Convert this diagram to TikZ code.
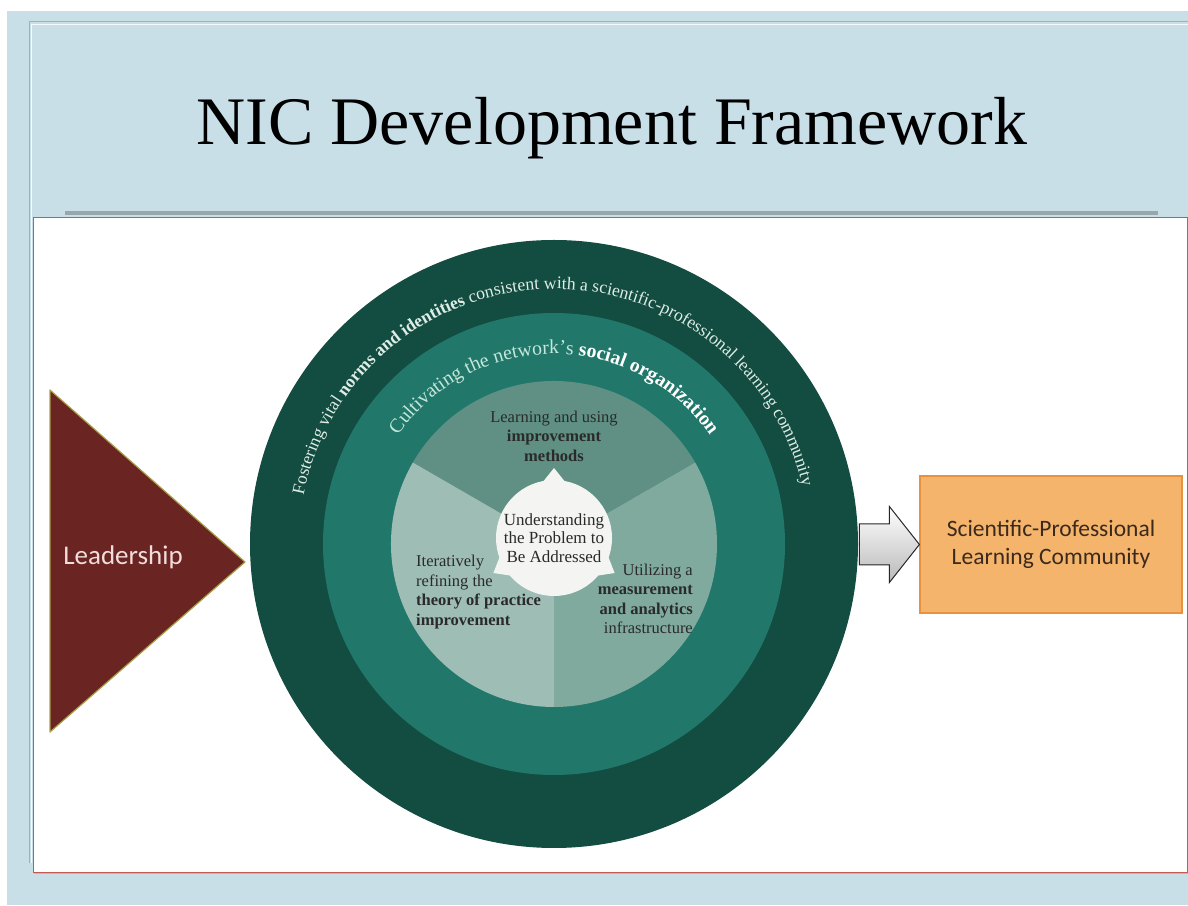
\documentclass[tikz,border=0pt]{standalone}
\usepackage{fontspec}
\setmainfont{Liberation Serif}
\newfontfamily\calibri{Carlito}
\usetikzlibrary{decorations.text,shadows,calc}
\definecolor{bgblue}{HTML}{C8DFE8}
\definecolor{framegray}{HTML}{9DB3BC}
\definecolor{bargray}{HTML}{9AA7AA}
\definecolor{panelred}{HTML}{C65A50}
\definecolor{ringdark}{HTML}{134C40}
\definecolor{ringmid}{HTML}{21786A}
\definecolor{sectop}{HTML}{5F9083}
\definecolor{secleft}{HTML}{9EBDB5}
\definecolor{secright}{HTML}{80AA9E}
\definecolor{corewhite}{HTML}{F4F4F2}
\definecolor{innertext}{HTML}{2A2A2A}
\definecolor{outertext}{HTML}{DDECE6}
\definecolor{midtext}{HTML}{C4E6DB}
\definecolor{leadred}{HTML}{6A2421}
\definecolor{leadedge}{HTML}{A8A048}
\definecolor{leadtext}{HTML}{F2DCDC}
\definecolor{boxfill}{HTML}{F4B46C}
\definecolor{boxedge}{HTML}{E8913E}
\definecolor{boxtext}{HTML}{3B2A1C}
\newcommand\outerreg{\fontsize{17.7}{20}\selectfont\mdseries}
\newcommand\outerbold{\fontsize{17.7}{20}\selectfont\bfseries}
\newcommand\midreg{\fontsize{19.8}{22}\selectfont\mdseries\color{midtext}}
\newcommand\midbold{\fontsize{19.8}{22}\selectfont\bfseries\color{white}}
\tikzset{
  innerlabel/.style={inner sep=0pt, text=innertext, font=\fontsize{16.5}{19.5}\selectfont},
  ringnode/.style={circle, inner sep=0pt},
}
\begin{document}
\begin{tikzpicture}[x=1pt,y=1pt]
\useasboundingbox (0,0) rectangle (1188,905);
\fill[white] (0,0) rectangle (1188,905);
\fill[bgblue] (7,0) rectangle (1188,894);
\draw[framegray, line width=1pt] (29,42) -- (29,883) -- (1188,883);
\draw[white!85!bgblue, line width=0.8pt] (31,42) -- (31,881) -- (1188,881);
\node[font=\fontsize{68}{80}\selectfont, anchor=base] (title) at (612,760) {NIC Development Framework};
\fill[bargray] (65,690) rectangle (1158,694);
\draw[fill=white, draw=panelred, line width=0.8pt, drop shadow={opacity=0.35, shadow xshift=1pt, shadow yshift=-2pt}] (33,33) rectangle (1187,688);

% rings
\coordinate (c) at (554,361);
\node[ringnode, fill=ringdark, minimum size=608pt] (outer) at (c) {};
\node[ringnode, fill=ringmid, minimum size=462pt] (mid) at (c) {};
\fill[sectop] (c) -- ++(30:163pt) arc[start angle=30, end angle=150, radius=163pt] -- cycle;
\fill[secleft] (c) -- ++(150:163pt) arc[start angle=150, end angle=270, radius=163pt] -- cycle;
\fill[secright] (c) -- ++(270:163pt) arc[start angle=270, end angle=390, radius=163pt] -- cycle;

% core
\coordinate (cc) at (554,367);
\foreach \a in {90,210,330}{
  \fill[corewhite] ([shift={(\a-14:55pt)}]cc) -- ([shift={(\a:70pt)}]cc) -- ([shift={(\a+14:55pt)}]cc) -- cycle;
}
\node[ringnode, fill=corewhite, minimum size=116pt, align=center, text=innertext, font=\fontsize{17}{18.7}\selectfont] (core) at (cc) {Understanding\\the Problem to\\Be Addressed};

% sector labels
\node[innerlabel, align=center] (learn) at (554,469) {Learning and using\\\textbf{improvement}\\\textbf{methods}};
\node[innerlabel, align=left, anchor=west] (iter) at (416,313) {Iteratively\\refining the\\\textbf{theory of practice}\\\textbf{improvement}};
\node[innerlabel, align=right, anchor=east] (util) at (693,306) {Utilizing a\\\textbf{measurement}\\\textbf{and analytics}\\infrastructure};

% arc texts
\path[decorate, decoration={text along path, text align=center, text color=outertext,
  text={|\outerreg|Fostering vital |\outerbold|norms and identities|\outerreg| consistent with a scientific-professional learning community}}]
  ([shift={(174:255pt)}]c) arc[start angle=174, end angle=8, radius=255pt];
\path[decorate, decoration={text along path, text align=center, text color=midtext,
  text={|\midreg|Cultivating the network's |\midbold|social organization}}]
  ([shift={(165:190pt)}]c) arc[start angle=165, end angle=15, radius=190pt];

% leadership
\draw[fill=leadred, draw=leadedge, line width=1.2pt, line join=round] (50,515) -- (50,173) -- (245,343) -- cycle;
\node[font=\calibri\fontsize{27}{30}\selectfont, text=leadtext] (lead) at (123,348) {Leadership};

% outcome box and arrow
\node[draw=boxedge, fill=boxfill, line width=1.2pt, minimum width=262pt, minimum height=137pt, align=center, text=boxtext, font=\calibri\fontsize{23.5}{27.5}\selectfont] (scpl) at (1051,360.5) {Scientific-Professional\\Learning Community};
\draw[draw=gray!30!black, top color=white, bottom color=gray!55, line width=1pt, line join=miter]
  (scpl.west) -- ++(-30,38) -- ++(0,-17.5) -- ++(-30,0) -- ++(0,-41) -- ++(30,0) -- ++(0,-17.5) -- cycle;
\end{tikzpicture}
\end{document}
